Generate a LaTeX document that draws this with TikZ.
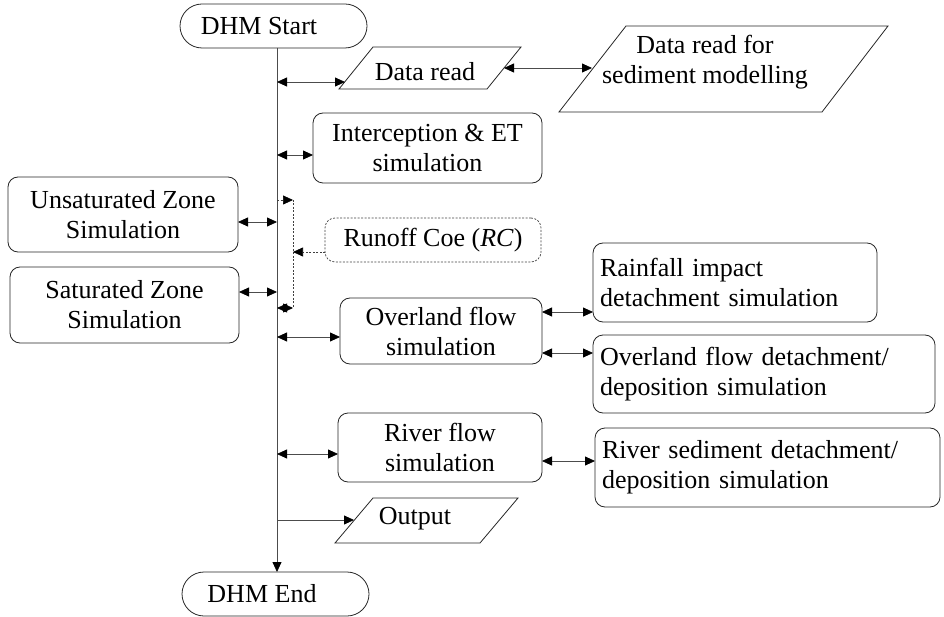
\documentclass[tikz,border=0pt]{standalone}
\usepackage{fontspec}
\setmainfont{Liberation Serif}
\usetikzlibrary{arrows.meta,shapes.misc}
\begin{document}
\begin{tikzpicture}[x=1pt,y=-1pt,
  >={Triangle[length=10pt,width=9pt,color=black]},
  every node/.style={font=\fontsize{26}{30}\selectfont, inner sep=0pt, outer sep=0pt},
  box/.style={draw=black!85, line width=0.8pt, rounded corners=10pt, align=center},
  lbox/.style={box, align=left, inner xsep=7pt},
  term/.style={draw=black!85, line width=0.8pt, rounded rectangle, minimum width=187pt, minimum height=44pt},
  para/.style={draw=black!85, line width=0.8pt},
  ln/.style={draw=black!70, line width=0.8pt},
  dot/.style={draw=black!75, line width=0.7pt, dash pattern=on 2pt off 1.5pt},
]
\useasboundingbox (0,0) rectangle (944,617);

% terminals
\node[term] (start) at (273.5,26) {};
\node (starttxt) at (259,26) {DHM Start};
\node[term] (end) at (275.5,594) {};
\node (endtxt) at (262,594) {DHM End};

% main line coordinates
\coordinate (mtop) at (277,48);
\coordinate (mbot) at (277,572);
\coordinate (m1) at (277,82);
\coordinate (m2) at (277,155);
\coordinate (mu) at (277,222);
\coordinate (ms) at (277,292);
\coordinate (mo) at (277,337);
\coordinate (mr) at (277,454);
\coordinate (mout) at (277,520);

% Data read parallelogram
\draw[para] (339,89) -- (373,47) -- (521,47) -- (487,89) -- cycle;
\node (dataread) at (425,72) {Data read};
\coordinate (dr-l) at (345,82);
\coordinate (dr-r) at (504,68);

% Sediment data parallelogram
\draw[para] (559,112) -- (626,26) -- (888,26) -- (822,112) -- cycle;
\node[align=center] (seddata) at (705,62) {Data read for\\sediment modelling};
\coordinate (sd-l) at (592,68);

% boxes
\node[box, minimum width=229pt, minimum height=70pt] (inter) at (427.5,148) {Interception \& ET\\simulation};
\node[box, minimum width=230pt, minimum height=75pt] (unsat) at (123,214.5) {Unsaturated Zone\\Simulation};
\node[box, minimum width=229pt, minimum height=76pt] (sat) at (124.5,305) {Saturated Zone\\Simulation};
\node[box, dot, minimum width=216pt, minimum height=44pt] (runoff) at (433,240) {Runoff Coe (\textit{RC})};
\node[box, minimum width=202pt, minimum height=66pt] (over) at (441,331) {Overland flow\\simulation};
\node[lbox, text width=270pt, minimum height=79pt] (rain) at (735,282.5) {Rainfall impact\\detachment simulation};
\node[lbox, text width=328pt, minimum height=78pt] (odet) at (764,374) {Overland flow detachment/\\deposition simulation};
\node[box, minimum width=204pt, minimum height=69pt] (river) at (440,447.5) {River flow\\simulation};
\node[lbox, text width=331pt, minimum height=79pt] (rsed) at (767.5,467.5) {River sediment detachment/\\deposition simulation};

% Output parallelogram
\draw[para] (335,543) -- (373,498) -- (518,498) -- (480,543) -- cycle;
\node (output) at (415,519) {Output};
\coordinate (out-l) at (354,520);

% main line
\draw[ln,->] (mtop) -- (mbot);

% connectors from main line
\draw[ln,<->] (m1) -- (dr-l);
\draw[ln,<->] (dr-r) -- (sd-l);
\draw[ln,<->] (m2) -- (m2 -| inter.west);
\draw[ln,<->] (mu -| unsat.east) -- (mu);
\draw[ln,<->] (ms -| sat.east) -- (ms);
\draw[ln,<->] (mo) -- (mo -| over.west);
\draw[ln,<->] (mr) -- (mr -| river.west);
\draw[ln,->] (mout) -- (out-l);

% right side connectors
\coordinate (or1) at (542,312);
\coordinate (or2) at (542,353);
\coordinate (rr) at (542,461);
\draw[ln,<->] (or1) -- (or1 -| rain.west);
\draw[ln,<->] (or2) -- (or2 -| odet.west);
\draw[ln,<->] (rr) -- (rr -| rsed.west);

% runoff coefficient dotted links
\coordinate (dtop) at (293,200);
\coordinate (dbot) at (293,308);
\coordinate (dmid) at (293,252);
\coordinate (mdt) at (277,200);
\coordinate (mdb) at (277,308);
\draw[dot,->] (mdt) -- (dtop);
\draw[dot] (dtop) -- (dbot);
\draw[dot,<->] (mdb) -- (dbot);
\draw[dot,->] (runoff.west |- dmid) -- (dmid);
\end{tikzpicture}
\end{document}
